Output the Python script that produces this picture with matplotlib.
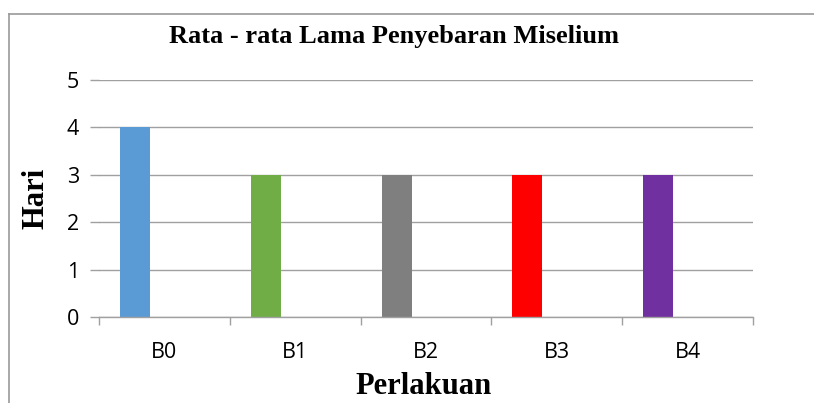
import matplotlib
matplotlib.use("Agg")
import matplotlib.pyplot as plt
from matplotlib.lines import Line2D
import numpy as np

# data
categories = ["B0", "B1", "B2", "B3", "B4"]
values = [4, 3, 3, 3, 3]
colors = ["#5B9BD5", "#70AD47", "#7F7F7F", "#FF0000", "#7030A0"]

plt.rcParams["font.family"] = ["Open Sans", "DejaVu Sans"]

W, H = 814, 403
fig = plt.figure(figsize=(W / 100, H / 100), dpi=100)

# axes placed by pixel box (left 99, right 753, top 80, bottom 317)
ax = fig.add_axes([99 / W, 1 - 317 / H, (753 - 99) / W, (317 - 80) / H])

grid_col = "#A0A0A0"
x = np.arange(len(categories))
bar_w = 0.23
ax.bar(x - 0.225, values, width=bar_w, color=colors, zorder=3)

ax.set_xlim(-0.5, len(categories) - 0.5)
ax.set_ylim(0, 5)
ax.set_yticks(range(0, 6))
ax.yaxis.grid(True, color=grid_col, linewidth=1.0, zorder=0)

# category labels centred, tick marks at category borders
ax.set_xticks(x)
ax.set_xticklabels(categories)
ax.set_xticks(np.arange(-0.5, len(categories)), minor=True)
ax.tick_params(axis="x", which="major", length=0, pad=18, labelsize=15.5)
ax.tick_params(axis="x", which="minor", length=6, width=1.0, color=grid_col, direction="out")
ax.tick_params(axis="y", length=6.5, width=1.0, color=grid_col, pad=8, labelsize=15.5)

for s in ["top", "right", "left"]:
    ax.spines[s].set_visible(False)
ax.spines["bottom"].set_color(grid_col)
ax.spines["bottom"].set_linewidth(1.0)
ax.spines["bottom"].set_zorder(4)

serif = "Liberation Serif"
fig.text(394 / W, 1 - 36 / H, "Rata - rata Lama Penyebaran Miselium",
         ha="center", va="center", fontfamily=serif, fontweight="bold", fontsize=19)
fig.text(36 / W, 1 - 198 / H, "Hari", rotation=90, ha="center", va="center",
         fontfamily=serif, fontweight="bold", fontsize=22)
fig.text(424 / W, 1 - 386 / H, "Perlakuan", ha="center", va="center",
         fontfamily=serif, fontweight="bold", fontsize=22)

# chart area border (only top and left edges fall inside the image)
border = "#999999"
fig.add_artist(Line2D([9 / W, 1.0], [1 - 14 / H, 1 - 14 / H], color=border, linewidth=1.2,
                      transform=fig.transFigure))
fig.add_artist(Line2D([9 / W, 9 / W], [0, 1 - 14 / H], color=border, linewidth=1.2,
                      transform=fig.transFigure))

fig.savefig("out.png", dpi=100)
